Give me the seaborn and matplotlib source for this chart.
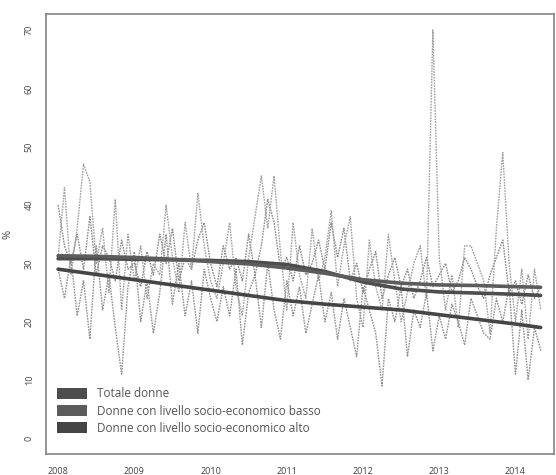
import numpy as np
import pandas as pd
import matplotlib
matplotlib.use("Agg")
import matplotlib.pyplot as plt
from matplotlib.patches import Patch
import seaborn as sns

# Monthly observations, January 2008 onwards
start_year = 2008
n_months = 77

totale = [40, 33, 30, 35, 29, 38, 28, 33, 31, 27, 34, 29, 30, 26, 32, 28, 35, 30, 36, 27,
          31, 29, 34, 37, 30, 26, 33, 29, 31, 27, 35, 28, 33, 41, 37, 29, 31, 27, 33, 28,
          30, 34, 29, 37, 31, 36, 27, 30, 25, 29, 32, 24, 28, 31, 26, 29, 24, 27, 31, 26,
          28, 30, 25, 27, 31, 29, 26, 24, 28, 31, 34, 25, 27, 23, 28, 24, 26]

basso = [31, 43, 28, 36, 47, 44, 30, 36, 25, 41, 22, 35, 27, 33, 24, 30, 28, 40, 31, 25,
         37, 29, 42, 33, 27, 24, 30, 37, 26, 21, 31, 38, 45, 36, 45, 32, 22, 37, 28, 24,
         36, 27, 31, 39, 26, 33, 38, 24, 19, 34, 26, 22, 35, 27, 20, 25, 30, 33, 24, 70,
         31, 22, 28, 19, 33, 33, 30, 27, 18, 36, 49, 30, 20, 29, 17, 29, 22]

alto = [29, 24, 31, 21, 27, 17, 33, 22, 28, 19, 11, 26, 32, 20, 27, 18, 25, 35, 23, 30,
        21, 27, 18, 29, 24, 20, 26, 21, 29, 16, 25, 28, 19, 30, 22, 17, 27, 21, 26, 18,
        23, 28, 20, 25, 17, 24, 19, 14, 26, 22, 18, 9, 24, 20, 26, 14, 22, 19, 25, 15,
        21, 17, 23, 20, 16, 24, 21, 18, 17, 24, 20, 26, 11, 22, 10, 19, 15]

# Smoothed trends, sampled every half year (last knot = final month)
trend_years = [2008.0, 2008.5, 2009.0, 2009.5, 2010.0, 2010.5, 2011.0, 2011.5,
               2012.0, 2012.5, 2013.0, 2013.5, 2014.0, 2014.33]
trend_totale = [30.8, 30.8, 30.7, 30.6, 30.5, 30.3, 29.8, 28.6, 26.8, 25.6, 25.1, 24.9, 24.7, 24.5]
trend_basso = [31.3, 31.2, 31.0, 30.7, 30.3, 29.9, 29.2, 28.3, 27.2, 26.6, 26.3, 26.2, 26.0, 25.9]
trend_alto = [29.0, 28.1, 27.2, 26.3, 25.4, 24.5, 23.6, 23.0, 22.5, 22.0, 21.2, 20.4, 19.6, 19.0]

labels = ["Totale donne",
          "Donne con livello socio-economico basso",
          "Donne con livello socio-economico alto"]
year_ticks = [2008, 2009, 2010, 2011, 2012, 2013, 2014]
pct_ticks = [0, 10, 20, 30, 40, 50, 60, 70]

months = start_year + np.arange(n_months) / 12.0
monthly = pd.DataFrame({
    "anno": np.tile(months, 3),
    "valore": totale + basso + alto,
    "gruppo": np.repeat(labels, n_months),
})
trends = pd.DataFrame({
    "anno": np.tile(trend_years, 3),
    "valore": trend_totale + trend_basso + trend_alto,
    "gruppo": np.repeat(labels, len(trend_years)),
})

sns.set_style("white")
plt.rcParams["font.family"] = ["Open Sans", "DejaVu Sans"]

fig = plt.figure(figsize=(5.56, 4.75), dpi=100)
ax = fig.add_axes([0.083, 0.044, 0.914, 0.926])

raw_colors = {labels[0]: "#8a8a8a", labels[1]: "#a0a0a0", labels[2]: "#909090"}
trend_colors = {labels[0]: "#4d4d4d", labels[1]: "#5c5c5c", labels[2]: "#454545"}

for lab in labels:
    sns.lineplot(data=monthly[monthly["gruppo"] == lab], x="anno", y="valore",
                 color=raw_colors[lab], linewidth=1.0, linestyle=(0, (1.2, 0.8)),
                 ax=ax, legend=False)
for lab in labels:
    sns.lineplot(data=trends[trends["gruppo"] == lab], x="anno", y="valore",
                 color=trend_colors[lab], linewidth=2.6, ax=ax, legend=False)

ax.set_xlim(2007.843, 2014.51)
ax.set_ylim(-2.7, 72.7)
ax.set_xticks(year_ticks)
ax.set_xticklabels([str(y) for y in year_ticks], fontsize=6.5)
ax.set_yticks(pct_ticks)
ax.set_yticklabels([str(v) for v in pct_ticks], fontsize=6.5, rotation=90, va="center")
ax.tick_params(axis="both", direction="out", length=4, width=0.8, colors="#777777",
               labelcolor="#444444", pad=5)
ax.set_xlabel("")
ax.set_ylabel("%", fontsize=8, color="#444444", labelpad=8)

for side in ["left", "bottom", "top", "right"]:
    ax.spines[side].set_visible(True)
    ax.spines[side].set_color("#8c8c8c")
    ax.spines[side].set_linewidth(1.3)

handles = [Patch(facecolor=trend_colors[lab], edgecolor="none") for lab in labels]
leg = ax.legend(handles, labels, loc="lower left", bbox_to_anchor=(0.0, 0.02),
                frameon=False, fontsize=8.5, handlelength=2.6, handleheight=1.1,
                handletextpad=0.8, labelspacing=0.35)
for t in leg.get_texts():
    t.set_color("#555555")

fig.savefig("out.png", dpi=100)
